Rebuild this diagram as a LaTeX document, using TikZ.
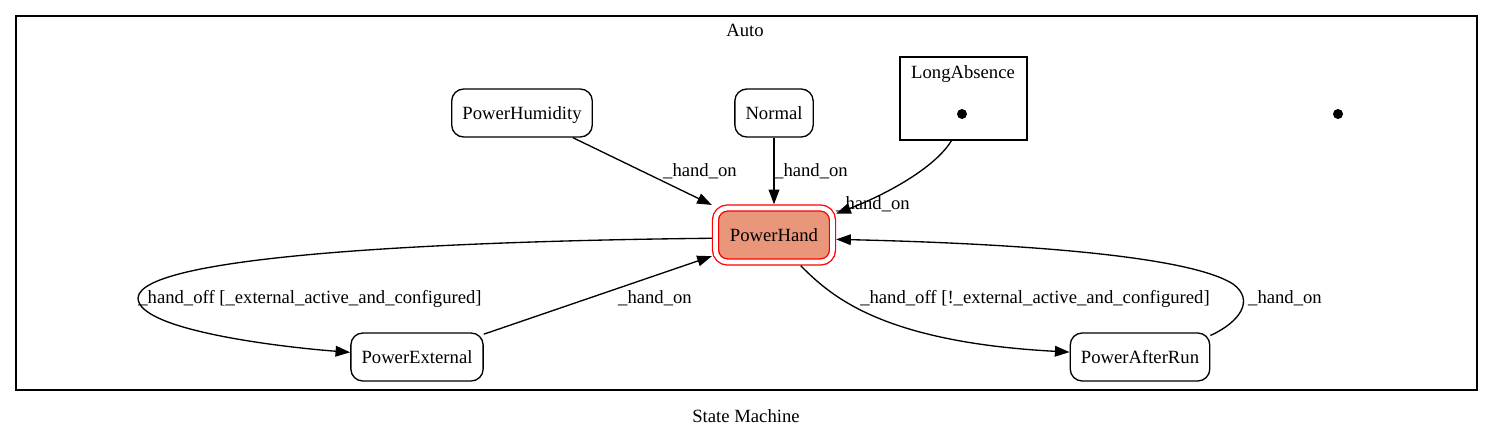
\documentclass[tikz,border=0pt]{standalone}
\usepackage{fontspec}
\setmainfont{Liberation Serif}
\usetikzlibrary{arrows.meta}
\definecolor{handfill}{HTML}{E9967A}
\tikzset{
	state/.style={draw, line width=1bp, rounded corners=9bp, minimum height=36bp, inner xsep=8bp, text height=12.5bp, text depth=3bp},
	activestate/.style={state, draw=red, fill=handfill, double=white, double distance=3.5bp, minimum width=87.75bp, minimum height=40.5bp, outer sep=2.75bp},
	cluster/.style={draw, line width=1bp},
	initdot/.style={circle, fill, inner sep=0pt, minimum size=7.5bp},
	edge/.style={line width=1bp, -{Triangle[length=11bp, width=8bp]}},
	edgelabel/.style={anchor=base, inner sep=0pt}
}
\begin{document}
\begin{tikzpicture}[x=0.75bp, y=-0.75bp, font=\fontsize{14bp}{17bp}\selectfont]
	\useasboundingbox (0,0) rectangle (1493,438);
	
	\draw[cluster] (16,16) rectangle (1477,390);
	\node[edgelabel] (autolabel) at (745,36) {Auto};
	\node[edgelabel] (machinelabel) at (746,422) {State Machine};
	
	\node[cluster, minimum width=95.25bp, minimum height=62.25bp, inner sep=0pt] (longabsence) at (963.5,98.5) {};
	\node[edgelabel] (longabsencelabel) at (963,78) {LongAbsence};
	\node[initdot] (longabsenceinit) at (962,114) {};
	\node[initdot] (autoinit) at (1338,114) {};
	
	\node[state] (powerhumidity) at (522,113) {PowerHumidity};
	\node[state] (normal) at (774,113) {Normal};
	\node[activestate] (powerhand) at (774,235) {PowerHand};
	\node[state] (powerexternal) at (417,357) {PowerExternal};
	\node[state] (powerafterrun) at (1140,357) {PowerAfterRun};
	
	\draw[edge] (powerhumidity) -- (powerhand);
	\draw[edge] (normal) -- (powerhand);
	\draw[edge] (longabsence.254.5) .. controls (935,168) and (885,195) .. (powerhand.19);
	\draw[edge] (powerhand.183) .. controls (450,241) and (140,255) .. (138,298) .. controls (138,330) and (280,347) .. (powerexternal.176);
	\draw[edge] (powerexternal) -- (powerhand);
	\draw[edge] (powerhand.-49) .. controls (830,295) and (880,342) .. (powerafterrun.176);
	\draw[edge] (powerafterrun.17) .. controls (1240,322) and (1255,300) .. (1233,284) .. controls (1180,250) and (950,242) .. (powerhand.-4);
	
	\node[edgelabel] (humidityon) at (700,176) {\_hand\_on};
	\node[edgelabel] (normalon) at (811,176) {\_hand\_on};
	\node[edgelabel] (longabsenceon) at (873,209) {\_hand\_on};
	\node[edgelabel] (externaloff) at (310,303) {\_hand\_off [\_external\_active\_and\_configured]};
	\node[edgelabel] (externalon) at (655,303) {\_hand\_on};
	\node[edgelabel] (afterrunoff) at (1035,303) {\_hand\_off [!\_external\_active\_and\_configured]};
	\node[edgelabel] (afterrunon) at (1285,303) {\_hand\_on};
	
\end{tikzpicture}
\end{document}
